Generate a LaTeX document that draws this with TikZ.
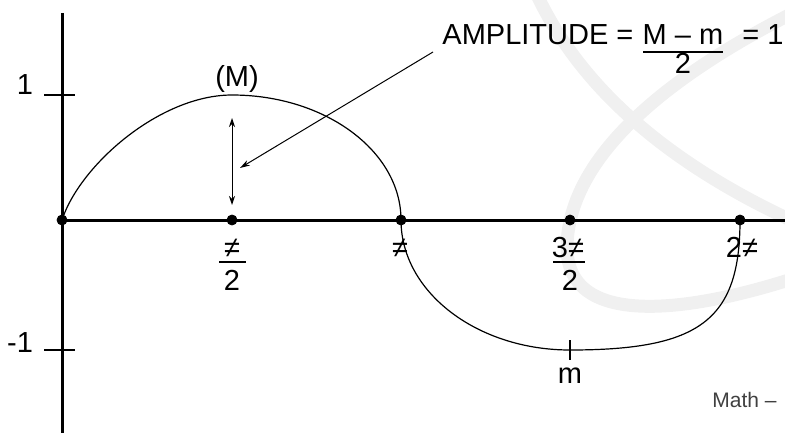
\documentclass[tikz,border=0pt]{standalone}
\usepackage{fontspec}
\setmainfont{Liberation Sans}
\usepackage{tikz}
\usetikzlibrary{arrows.meta}

\begin{document}
\begin{tikzpicture}[x=0.5pt, y=-0.5pt, font=\fontsize{14.5}{17}\selectfont,
    axis/.style={line width=1.5pt},
    curve/.style={line width=0.6pt},
    lbl/.style={inner sep=0pt, anchor=base},
    mark line/.style={black!6, line width=6.5pt}]

    % 1. Khung hình (giữ đúng tỉ lệ 785 x 433)
    \useasboundingbox (0,0) rectangle (785,433);

    % 2. Hình mờ phía sau (vòng xám nhạt)
    \draw[mark line] (537,-5) .. controls (575,75) and (650,155) .. (795,222);
    \draw[mark line] (795,12) .. controls (680,70) and (570,150) .. (567,245)
        .. controls (565,330) and (690,312) .. (795,278);

    % 3. Các điểm chính
    \coordinate (O) at (62,220);      % Gốc toạ độ
    \coordinate (Ytop) at (62,13);
    \coordinate (Ybot) at (62,433);
    \coordinate (Xend) at (785,220);
    \coordinate (Q1) at (232,220);    % pi/2
    \coordinate (Q2) at (401,220);    % pi
    \coordinate (Q3) at (570,220);    % 3pi/2
    \coordinate (Q4) at (740,220);    % 2pi
    \coordinate (Max) at (232,95);
    \coordinate (Min) at (570,350);

    % 4. Hai trục
    \draw[axis] (Ytop) -- (Ybot);
    \draw[axis] (O) -- (Xend);

    % 5. Vạch chia 1 và -1
    \coordinate (T1a) at (44,95);
    \coordinate (T1b) at (75,95);
    \coordinate (T2a) at (44,350);
    \coordinate (T2b) at (75,350);
    \draw[curve] (T1a) -- (T1b);
    \draw[curve] (T2a) -- (T2b);
    \node[lbl] (one) at (25,94) {1};
    \node[lbl] (mone) at (20,352) {-1};

    % 6. Đường cong
    \draw[curve] (O) .. controls (80,165) and (160,95) .. (Max)
        .. controls (325,95) and (401,151) .. (Q2)
        .. controls (401,292) and (477,350) .. (Min)
        .. controls (700,350) and (740,320) .. (Q4);

    % 7. Vạch tại điểm thấp nhất
    \coordinate (Ma) at (570,340);
    \coordinate (Mb) at (570,360);
    \draw[curve] (Ma) -- (Mb);
    \node[lbl] (mlow) at (570,383) {m};
    \node[lbl] (mhigh) at (237,86) {(M)};

    % 8. Các chấm trên trục
    \foreach \p in {O,Q1,Q2,Q3,Q4}
        \filldraw[black] (\p) circle (2.5pt);

    % 9. Nhãn trên trục hoành
    \node[lbl] (n1) at (232,257) {≠};
    \node[lbl] (d1) at (232,290) {2};
    \draw[curve] (219,262) -- (246,262);
    \node[lbl] (n2) at (400,257) {≠};
    \node[lbl] (n3) at (568,257) {3≠};
    \node[lbl] (d3) at (570,290) {2};
    \draw[curve] (553,262) -- (585,262);
    \node[lbl] (n4) at (742,257) {2≠};

    % 10. Mũi tên biên độ
    \coordinate (Atop) at (232,118);
    \coordinate (Abot) at (232,205);
    \draw[line width=0.5pt, {Stealth[length=4.5pt,width=3pt]}-{Stealth[length=4.5pt,width=3pt]}] (Atop) -- (Abot);
    \coordinate (tail) at (433,52);
    \coordinate (head) at (240,168);
    \draw[line width=0.5pt, -{Stealth[length=5pt,width=3pt]}] (tail) -- (head);

    % 11. Công thức biên độ
    \node[lbl, anchor=base west] (ampl) at (442,45) {AMPLITUDE =};
    \node[lbl] (num) at (683,45) {M – m};
    \node[lbl] (den) at (683,74) {2};
    \draw[curve] (643,52) -- (723,52);
    \node[lbl, anchor=base east] (val) at (784,45) {= 1};

    % 12. Chữ ở góc dưới
    \node[lbl, anchor=base west, black!75, font=\fontsize{10.5}{12}\selectfont] (src) at (712,407) {Math –};

\end{tikzpicture}
\end{document}
